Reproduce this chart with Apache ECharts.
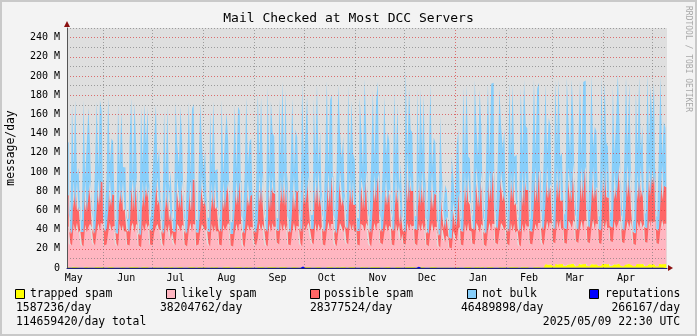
<!DOCTYPE html>
<html><head><meta charset="utf-8">
<script src="https://cdn.jsdelivr.net/npm/echarts@6/dist/echarts.min.js"></script>
<style>html,body{margin:0;padding:0;background:#f3f3f3}#c{width:697px;height:336px}</style>
</head><body><div id="c"></div>
<script>
// ---------------- DATA (millions of messages/day, one value per day from 2024-05-09) ----------------
const firstDay = '2024-05-09';
const seriesNames = ['trapped spam','likely spam','possible spam','not bulk','reputations'];
const seriesTotals = ['1587236/day','38204762/day','28377524/day','46489898/day','266167/day'];
const grandTotal = '114659420/day total';
const stampText = '2025/05/09 22:30 UTC';
const titleText = 'Mail Checked at Most DCC Servers';
const yAxisTitle = 'message/day';
const yTickValues = [0,20,40,60,80,100,120,140,160,180,200,220,240];
const monthLabels = ['May','Jun','Jul','Aug','Sep','Oct','Nov','Dec','Jan','Feb','Mar','Apr'];
const monthLabelDates = ['2024-05-14','2024-06-15','2024-07-15','2024-08-15','2024-09-15','2024-10-15','2024-11-15','2024-12-15','2025-01-15','2025-02-15','2025-03-15','2025-04-15'];
const monthStarts = ['2024-06-01','2024-07-01','2024-08-01','2024-09-01','2024-10-01','2024-11-01','2024-12-01','2025-01-01','2025-02-01','2025-03-01','2025-04-01','2025-05-01'];
const yearStart = '2025-01-01';
const axisStart = '2024-05-09T22:30:00Z';
const axisEnd = '2025-05-09T22:30:00Z';

const trappedSpam = [1,
1,.6,.5,1.2,.9,1.1,.8,
1.3,.5,.4,1,1.2,.8,1.1,
.9,.6,.5,1.1,1.4,1,.9,
1.2,.4,.6,.8,1.1,1.3,1,
1,.5,.5,1.2,.9,1,1.3,
.8,.6,.4,1.1,1.2,.9,1,
1.1,.5,.5,1,.8,1.2,1.1,
1,.4,.6,1.3,1,.9,1.2,
.9,.5,.4,1,1.1,1.2,.8,
1.2,.6,.5,.9,1.3,1,1.1,
1,.5,.5,1.1,1,1.2,.9,
1.1,.4,.6,1.2,.8,1.1,1,
.9,.5,.4,1,1.2,.9,1.3,
1,.6,.5,1.1,1,1.2,.8,
1.2,.5,.5,.9,1.1,1,1.2,
1,.4,.6,1.2,1.3,.9,1,
.8,.5,.4,.7,1,1.2,1.1,
1.1,.6,.5,1,1.2,.9,1,
1,.5,.5,1.3,.9,1.1,1.2,
1.2,.4,.6,1,1.1,1,.9,
.9,.5,.4,1.2,1,1.3,1.1,
1,.6,.5,.9,1.2,1,1,
1.1,.5,.5,1,1.1,1.2,.8,
1,.4,.6,1.2,.9,1,1.3,
1.2,.5,.4,1.1,1,1.1,1,
.9,.6,.5,1,1.3,.9,1.1,
1,.5,.5,1.2,1,1.2,1,
1.1,.4,.6,.9,1.1,1,1.2,
1,.5,.4,1.3,1,1.1,.6,
.7,.6,.5,1,1.2,1,1.1,
1.2,.5,.5,1.1,.9,1.2,1,
1,.4,.6,1,1.1,1.3,.9,
1.1,.5,.4,.9,.8,.5,.7,
.7,.4,.4,.8,.9,.5,1,
1.1,.5,.5,1.2,1,1.1,1.2,
1,.6,.4,1.1,1.3,1,.9,
1.2,.5,.5,1,1.1,1.2,1,
.9,.4,.6,1.3,1,.9,1.1,
1.1,.5,.5,1,1.2,1.1,1,
1,.6,.4,1.2,.9,1,1.3,
1.2,.5,.5,1,1.1,1.2,.9,
1,.5,.6,3.2,4.1,3.5,4.4,
3.8,2.1,1.9,4.3,3.6,4.6,3.9,
4.2,2,2.2,3.7,4.5,3.8,4.7,
3.9,1.8,2,4.6,3.5,4.2,3.8,
4.4,2.2,1.9,3.9,4.8,3.6,4.3,
3.7,2,2.1,4.5,3.9,4.7,3.6,
4.3,1.9,2,3.8,4.4,3.7,4.6,
4,2.1,1.8,4.7,3.6,4.3,3.9,
3.5,1.9,2,4.1,4.6,3.8,4.4,
4.2,2,2.2,3.9,4.5,3.7,4.8,
3.8,1.8,1.9,4.4,3.9,4.6,4,
4.1];

const likelySpam = [42,
42,25,23,45,37,46,36,
38,24,22,44,36,42,45,
41,26,23,37,45,38,46,
44,23,24,36,46,37,42,
43,25,22,45,38,44,37,
37,24,23,42,46,36,45,
42,23,21,44,37,46,41,
45,24,23,36,42,45,38,
41,25,22,44,36,45,30,
36,26,23,45,42,37,44,
42,24,22,38,46,36,45,
44,23,24,37,45,41,38,
41,25,22,45,36,44,37,
37,24,23,44,38,42,46,
42,23,22,36,45,37,44,
45,24,21,37,44,38,42,
41,25,23,30,46,37,45,
38,24,22,45,36,46,42,
42,26,24,46,37,45,38,
45,24,23,37,46,36,43,
42,25,22,45,38,43,46,
37,26,24,46,36,45,38,
43,24,23,38,47,37,45,
45,25,22,37,46,42,36,
42,26,24,46,38,45,37,
38,24,23,45,43,37,46,
42,25,22,37,46,38,45,
46,26,24,36,45,37,43,
41,24,23,45,37,44,28,
35,25,24,46,38,45,42,
43,25,23,45,37,46,38,
45,24,22,37,46,36,42,
42,23,21,44,34,26,33,
31,21,20,38,33,27,40,
42,24,23,45,37,46,38,
37,25,24,46,42,36,45,
42,24,22,38,46,37,45,
45,26,24,37,46,43,38,
43,25,23,46,37,45,36,
38,24,22,45,36,46,42,
42,25,24,37,45,38,46,
46,26,23,36,45,37,43,
42,25,24,45,38,46,37,
37,24,23,46,42,38,45,
43,26,24,37,46,36,45,
45,25,24,38,46,37,42,
42,24,23,46,37,45,38,
38,26,25,45,37,42,46,
43,25,24,36,45,38,46,
34,23,22,44,37,46,38,
42,25,24,46,38,45,43,
45,24,23,37,46,38,42,
42];

const possibleSpam = [32,
33,14,12,46,24,44,22,
25,13,15,48,21,32,45,
31,15,12,23,47,26,43,
45,14,16,22,49,25,34,
32,12,13,44,27,47,21,
24,15,14,33,46,22,48,
34,13,12,47,25,43,31,
44,16,15,21,35,49,26,
30,14,13,45,23,42,17,
23,12,14,48,33,24,46,
32,15,13,26,44,21,47,
46,14,12,22,50,34,25,
31,13,15,43,24,48,23,
26,16,14,47,22,35,44,
33,12,13,24,46,27,43,
45,15,14,21,48,25,32,
35,14,13,18,50,27,52,
26,16,15,53,24,49,36,
34,13,14,48,28,55,25,
52,15,13,26,50,23,37,
36,17,15,54,27,35,49,
25,14,16,51,29,56,24,
37,16,14,28,53,25,48,
50,15,13,24,56,36,27,
35,17,16,52,26,48,28,
27,14,15,49,38,23,55,
36,16,14,26,51,29,47,
54,15,13,24,49,27,38,
34,17,15,52,28,47,16,
26,14,13,75,29,50,37,
36,15,16,51,26,55,28,
49,14,13,27,53,24,35,
33,13,12,44,24,14,20,
19,11,10,30,22,15,32,
38,15,14,55,27,52,30,
28,16,15,58,39,26,54,
37,14,13,29,56,31,53,
57,17,16,27,54,40,30,
39,15,14,53,32,58,28,
29,16,15,56,27,55,38,
38,14,13,31,59,28,52,
55,17,16,28,57,32,40,
37,15,14,58,30,54,29,
30,16,15,55,39,27,60,
39,14,13,32,56,30,53,
58,17,16,29,55,31,38,
36,15,14,57,28,59,32,
31,16,15,54,30,40,58,
40,14,13,27,60,31,55,
24,13,12,52,29,57,31,
38,16,15,59,32,54,39,
56,15,14,30,58,28,40,
38];

const notBulk = [55,
55,17,13,78,42,84,38,
40,14,12,82,36,57,76,
52,16,13,45,80,39,85,
74,13,15,37,83,44,58,
56,15,12,80,40,72,46,
43,12,14,54,84,37,79,
50,14,11,76,45,81,55,
78,16,13,38,58,75,42,
53,13,12,74,39,80,30,
41,15,13,79,52,44,77,
57,14,12,36,82,41,73,
80,12,13,43,76,55,38,
52,14,15,75,44,81,40,
39,16,13,83,37,56,72,
55,13,12,42,78,38,80,
73,15,14,36,85,43,57,
58,14,12,35,86,48,80,
45,16,14,90,42,78,62,
60,13,13,82,51,93,44,
88,15,12,46,80,41,64,
57,17,14,92,47,60,84,
43,14,15,79,52,90,45,
62,16,13,49,94,42,81,
85,15,14,44,88,63,50,
59,17,15,91,46,80,53,
47,14,13,83,61,43,95,
63,16,14,51,87,45,82,
93,15,13,42,84,52,60,
56,17,14,88,49,79,35,
48,14,12,85,50,92,64,
61,15,14,90,44,84,52,
86,14,13,47,91,43,58,
55,13,12,70,40,22,33,
30,11,10,48,38,24,55,
63,15,13,88,50,92,47,
48,16,14,91,65,52,86,
66,14,13,54,89,46,93,
90,17,15,49,86,64,55,
62,15,14,93,48,87,51,
50,16,14,86,56,94,67,
64,14,13,47,92,53,88,
91,17,16,52,85,48,69,
65,15,14,89,55,93,46,
49,16,15,94,66,51,87,
67,14,13,56,90,47,92,
88,17,16,48,95,54,63,
61,15,14,92,50,86,57,
53,16,15,87,47,68,94,
66,14,13,49,91,55,88,
40,13,12,84,52,93,48,
64,16,15,95,53,87,65,
89,15,14,51,92,46,66,
62];

const reputations = [.3,
.3,.2,.2,.3,.3,.3,.3,
.3,.2,.2,.3,.3,.3,.3,
.3,.2,.2,.3,.3,.3,.3,
.3,.2,.2,.3,.3,.3,.3,
.3,.2,.2,.3,.3,.3,.3,
.3,.2,.2,.3,.3,.3,.3,
.3,.2,.2,.3,.3,.3,.3,
.3,.2,.2,.3,.3,.3,.3,
.3,.2,.2,.3,.3,.3,.3,
.3,.2,.2,.3,.3,.3,.3,
.3,.2,.2,.3,.3,.3,.3,
.3,.2,.2,.3,.3,.3,.3,
.3,.2,.2,.3,.3,.3,.3,
.3,.2,.2,.3,.3,.3,.3,
.3,.2,.2,.3,.3,.3,.3,
.3,.2,.2,.3,.3,.3,.3,
.3,.2,.2,1.6,.3,.3,.3,
.3,.2,.2,.3,.3,.3,.3,
.3,.2,.2,.3,.3,.3,.3,
.3,.2,.2,.3,.3,.3,.3,
.3,.2,.2,1.5,.3,.3,.3,
.3,.2,.2,.3,.3,.3,.3,
.3,.2,.2,.3,.3,.3,.3,
.3,.2,.2,.3,.3,.3,.3,
.3,.2,.2,.3,.3,.3,.3,
.3,.2,.2,.3,.3,.3,.3,
.3,.2,.2,.3,.3,.3,.3,
.3,.2,.2,.3,.3,.3,.3,
.3,.2,.2,.3,.3,.3,.3,
.3,.2,1.4,.3,.3,.3,.3,
.3,.2,.2,1.3,.3,.3,.3,
.3,.2,.2,1.4,.3,.3,.3,
.3,.2,.2,.3,.3,.3,.3,
.3,.2,.2,.3,.3,.3,.3,
.3,.2,.2,.3,.3,.3,.3,
.3,.2,.2,.3,.3,1.4,.3,
.3,.2,.2,.3,.3,.3,.3,
.3,.2,.2,.3,.3,.3,.3,
.3,.2,.2,.3,.3,.3,.3,
.3,.2,.2,.3,.3,.3,.3,
.3,.2,.2,.3,.3,.3,.3,
.3,.2,.2,.3,.3,.3,.3,
.3,.2,.2,.3,.3,.3,.3,
.3,.2,.2,.3,.3,.3,.3,
.3,.2,.2,.3,.3,.3,.3,
.3,.2,.2,.3,.3,.3,.3,
.3,.2,.2,.3,.3,.3,.3,
.3,.2,.2,.3,.3,.3,.3,
.3,.2,.2,.3,.3,.3,.3,
.3,.2,.2,.3,.3,.3,.3,
.3,.2,.2,.3,.3,.3,.3,
.3,.2,.2,.3,.3,.3,.3,
.3];

// ---------------- STYLE / LAYOUT ----------------
const seriesColors = ['#ffff00','#ffb6c1','#ff6666','#87cefa','#0000ff'];
const FONT = '"DejaVu Sans Mono", monospace';
const legendBoxX = [15,166,310,467,589];
const legendTextX = [30,181,324,482,605];
const valueX = [16,160,310,461,680];
const valueAlign = ['left','left','left','left','right'];

const DAY = 86400000;
const t0 = Date.parse(firstDay + 'T12:00:00Z');
const pts = arr => arr.map((v, i) => [t0 + i * DAY, v]);
const labelTimes = monthLabelDates.map(d => Date.parse(d + 'T00:00:00Z'));
const tMin = Date.parse(axisStart), tMax = Date.parse(axisEnd);

function stackSeries(idx, arr) {
  return {
    name: seriesNames[idx], type: 'line', stack: 'total', step: 'middle',
    data: pts(arr), symbol: 'none', showSymbol: false, silent: true,
    lineStyle: { width: 0 }, itemStyle: { color: seriesColors[idx] },
    areaStyle: { color: seriesColors[idx], opacity: 1 }, z: 2
  };
}

const gridLineGray = 'rgba(110,110,110,0.6)';
const gridLineRed = 'rgba(215,60,60,0.7)';

const series = [
  stackSeries(0, trappedSpam),
  stackSeries(1, likelySpam),
  stackSeries(2, possibleSpam),
  stackSeries(3, notBulk),
  {
    name: seriesNames[4], type: 'line', step: 'middle', data: pts(reputations),
    symbol: 'none', showSymbol: false, silent: true,
    lineStyle: { width: 0 }, itemStyle: { color: seriesColors[4] },
    areaStyle: { color: seriesColors[4], opacity: 1 }, z: 3,
    markLine: {
      silent: true, symbol: ['none', 'none'], label: { show: false }, animation: false,
      lineStyle: { type: [1, 2], width: 1, color: gridLineGray },
      data: monthStarts.map(d => ({
        xAxis: Date.parse(d + 'T00:00:00Z'),
        lineStyle: { type: [1, 2], width: 1, color: d === yearStart ? gridLineRed : gridLineGray }
      }))
    }
  }
];

const graphic = [];
seriesNames.forEach((n, i) => {
  graphic.push({ type: 'rect', shape: { x: legendBoxX[i] + 0.5, y: 289.5, width: 9, height: 9 },
    style: { fill: seriesColors[i], stroke: '#000', lineWidth: 1 }, silent: true });
  graphic.push({ type: 'text', x: legendTextX[i], y: 294,
    style: { text: n, font: '11.4px ' + FONT, fill: '#000', textAlign: 'left', textVerticalAlign: 'middle' }, silent: true });
  graphic.push({ type: 'text', x: valueX[i], y: 308.5,
    style: { text: seriesTotals[i], font: '11.4px ' + FONT, fill: '#000', textAlign: valueAlign[i], textVerticalAlign: 'middle' }, silent: true });
});
graphic.push({ type: 'text', x: 16, y: 322.5,
  style: { text: grandTotal, font: '11.4px ' + FONT, fill: '#000', textAlign: 'left', textVerticalAlign: 'middle' }, silent: true });
graphic.push({ type: 'text', x: 680, y: 322.5,
  style: { text: stampText, font: '11.4px ' + FONT, fill: '#000', textAlign: 'right', textVerticalAlign: 'middle' }, silent: true });
graphic.push({ type: 'text', x: 11, y: 148, rotation: Math.PI / 2,
  style: { text: yAxisTitle, font: '11.4px ' + FONT, fill: '#000', textAlign: 'center', textVerticalAlign: 'middle' }, silent: true });
graphic.push({ type: 'text', x: 688, y: 59, rotation: -Math.PI / 2,
  style: { text: 'RRDTOOL / TOBI OETIKER', font: '8px ' + FONT, fill: '#a8a8a8', textAlign: 'center', textVerticalAlign: 'middle' }, silent: true });
graphic.push({ type: 'polygon', shape: { points: [[64, 27], [70, 27], [67, 21]] }, style: { fill: '#8b1010' }, silent: true, z: 10 });
graphic.push({ type: 'polygon', shape: { points: [[668, 265], [668, 271], [673, 268]] }, style: { fill: '#8b1010' }, silent: true, z: 10 });
graphic.push({ type: 'rect', shape: { x: 1, y: 1, width: 695, height: 334 },
  style: { fill: 'none', stroke: '#c9c9c9', lineWidth: 2 }, silent: true });

const chart = echarts.init(document.getElementById('c'), null, { renderer: 'canvas' });
chart.setOption({
  animation: false,
  useUTC: true,
  backgroundColor: '#f3f3f3',
  title: {
    text: titleText, left: 'center', top: 12, padding: 0,
    textStyle: { fontFamily: FONT, fontSize: 13, fontWeight: 'normal', color: '#000' }
  },
  grid: { left: 67, right: 30, top: 28, bottom: 68, show: true, backgroundColor: '#dfdfdf', borderWidth: 0 },
  xAxis: [{
    type: 'time', min: tMin, max: tMax,
    axisLine: { show: true, lineStyle: { color: '#20207a', width: 1 } },
    axisTick: { show: false }, splitLine: { show: false }, axisLabel: { show: false },
    z: 4
  }, {
    type: 'value', min: tMin, max: tMax, position: 'bottom',
    axisLine: { show: false }, axisTick: { show: false }, splitLine: { show: false },
    axisLabel: {
      customValues: labelTimes,
      formatter: v => { const k = labelTimes.indexOf(v); return k >= 0 ? monthLabels[k] : ''; },
      fontFamily: FONT, fontSize: 10, color: '#000', margin: 5, hideOverlap: false
    }
  }],
  yAxis: {
    type: 'value', min: 0, max: 250, interval: 10,
    axisLine: { show: true, lineStyle: { color: '#555', width: 1 } },
    axisTick: { show: false },
    axisLabel: {
      formatter: v => yTickValues.indexOf(v) >= 0 ? (v === 0 ? '0' : v + ' M') : '',
      fontFamily: FONT, fontSize: 10, color: '#000', margin: 7
    },
    splitLine: { show: true, lineStyle: { type: [1, 2], width: 1, color: [gridLineRed, gridLineGray] } },
    z: 4
  },
  series: series,
  graphic: graphic
});
</script>
</body></html>
